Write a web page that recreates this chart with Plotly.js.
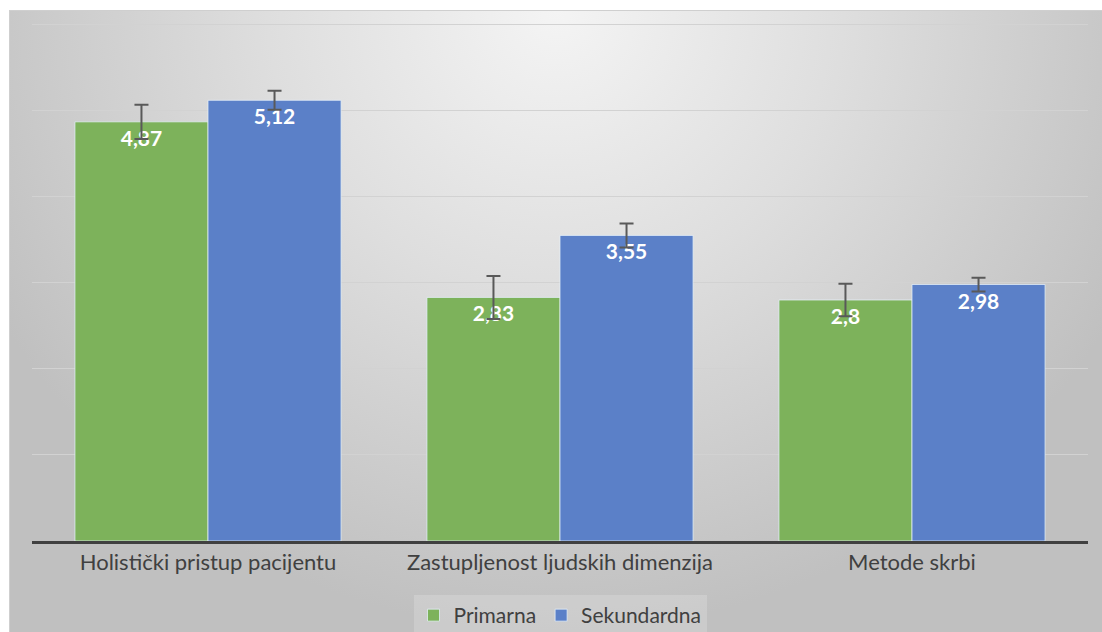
<!DOCTYPE html>
<html>
<head>
<meta charset="utf-8">
<script src="https://cdn.plot.ly/plotly-3.0.1.min.js"></script>
<style>
  html, body { margin: 0; padding: 0; background: #ffffff; }
  #wrap { position: relative; width: 1102px; height: 632px; overflow: hidden; }
  #bg { position: absolute; left: 9px; top: 10px; width: 1093px; height: 622px;
        background: radial-gradient(ellipse 640px 620px at 50% 0%, #f4f4f4 0%, #dedede 45%, #c0c0c0 100%);
        border-top: 1px solid #cfcfcf; border-left: 1px solid #cfcfcf; box-sizing: border-box; }
  #chart { position: absolute; left: 0; top: 0; width: 1102px; height: 632px; }
</style>
</head>
<body>
<div id="wrap">
  <div id="bg"></div>
  <div id="chart"></div>
</div>
<script>
const categories = ["Holistički pristup pacijentu", "Zastupljenost ljudskih dimenzija", "Metode skrbi"];
const primarna = [4.87, 2.83, 2.8];
const sekundardna = [5.12, 3.55, 2.98];
const primarnaErr = [0.2, 0.25, 0.19];
const sekundardnaErr = [0.11, 0.14, 0.08];
const seriesNames = ["Primarna", "Sekundardna"];

const fmt = v => String(v).replace('.', ',');
const FONT = 'Lato, "Open Sans", sans-serif';

function barTrace(name, values, errs, color) {
  return {
    type: 'bar',
    name: name,
    x: categories,
    y: values,
    text: values.map(fmt),
    textposition: 'inside',
    insidetextanchor: 'end',
    textangle: 0,
    textfont: { family: FONT, size: 21, color: '#ffffff', weight: 'bold' },
    marker: { color: color, line: { color: 'rgba(230,240,250,0.75)', width: 1 } },
    error_y: { type: 'data', array: errs, visible: true, color: '#595959', thickness: 2, width: 7 },
    hoverinfo: 'x+y'
  };
}

const data = [
  barTrace(seriesNames[0], primarna, primarnaErr, '#7db25b'),
  barTrace(seriesNames[1], sekundardna, sekundardnaErr, '#5b80c8')
];

const layout = {
  width: 1102,
  height: 632,
  margin: { l: 32, r: 14, t: 22, b: 91, autoexpand: false },
  paper_bgcolor: 'rgba(0,0,0,0)',
  plot_bgcolor: 'rgba(0,0,0,0)',
  barmode: 'group',
  bargap: 0.244,
  bargroupgap: 0,
  showlegend: true,
  font: { family: FONT, color: '#404040' },
  xaxis: {
    type: 'category',
    showline: true,
    linecolor: '#404040',
    linewidth: 3,
    ticks: '',
    showgrid: false,
    automargin: false,
    tickfont: { family: FONT, size: 22, color: '#404040' }
  },
  yaxis: {
    range: [0, 6.03],
    dtick: 1,
    showticklabels: false,
    showgrid: true,
    gridcolor: '#d2d2d2',
    gridwidth: 1,
    zeroline: false,
    showline: false,
    automargin: false,
    ticks: ''
  },
  legend: {
    orientation: 'h',
    x: 0.5,
    xanchor: 'center',
    y: -0.104,
    yanchor: 'top',
    bgcolor: 'rgba(255,255,255,0.18)',
    font: { family: FONT, size: 21, color: '#404040' },
    itemwidth: 30,
    traceorder: 'normal'
  }
};

Plotly.newPlot('chart', data, layout, { displayModeBar: false, staticPlot: true });
</script>
</body>
</html>
